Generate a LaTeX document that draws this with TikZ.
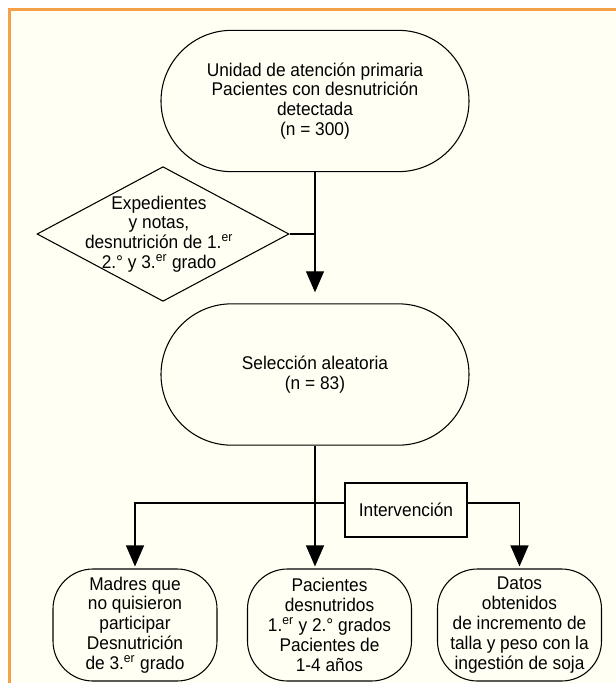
\documentclass[tikz,border=0pt]{standalone}
\usepackage{fontspec}
\setmainfont{Liberation Sans}[FakeStretch=0.94]
\usetikzlibrary{arrows.meta,shapes.geometric}
\definecolor{fondo}{RGB}{255,255,244}
\definecolor{borde}{RGB}{247,160,74}

\begin{document}
\begin{tikzpicture}[x=0.75pt, y=-0.75pt, line width=0.8pt,
    >={Triangle[length=15.75pt,width=13.5pt]},
    every node/.style={font=\fontsize{13.8pt}{14.85pt}\selectfont, align=center, inner sep=0pt},
    etapa/.style={draw, rounded corners=53pt, minimum width=231pt, minimum height=106pt},
    grupo/.style={draw, rounded corners=30pt, minimum width=123pt, minimum height=84pt},
    decision/.style={draw, diamond, minimum width=189pt, minimum height=101pt},
    caja/.style={draw, minimum width=91.5pt, minimum height=40.5pt}]
    % 背景与橙色边框
    \useasboundingbox (0,0) rectangle (616,683);
    \fill[fondo] (10,10) rectangle (616,683);
    \draw[borde, line width=2.25pt] (9,683) -- (9,9) -- (616,9);

    % 上部两个阶段
    \node[etapa] (inicio) at (315,101) {Unidad de atención primaria\\Pacientes con desnutrición\\detectada\\(n = 300)};
    \node[etapa] (sel) at (315,374.5) {Selección aleatoria\\(n = 83)};

    % 判断菱形
    \node[decision] (crit) at (163,234) {};
    \node (critxt) at ([xshift=-3pt]crit.center) {Expedientes\\y notas,\\desnutrición de 1.\textsuperscript{er}\\2.° y 3.\textsuperscript{er} grado};

    % 干预框与下部三组
    \node[caja] (interv) at (406,510) {Intervención};
    \node[grupo] (madres) at (135,625) {Madres que\\no quisieron\\participar\\Desnutrición\\de 3.\textsuperscript{er} grado};
    \node[grupo] (pac) at (329.5,625) {Pacientes\\desnutridos\\1.\textsuperscript{er} y 2.° grados\\Pacientes de\\1-4 años};
    \node[grupo] (datos) at (519.5,625) {Datos\\obtenidos\\de incremento de\\talla y peso con la\\ingestión de soja};

    % 连线
    \draw[->, shorten >=8.25pt] (inicio.south) -- (sel.north);
    \draw (crit.east) -- (crit.east -| inicio.south);
    \draw[->, shorten >=1.5pt] (sel.south) -- (sel.south |- pac.north);
    \draw[->, shorten >=1.5pt] ([yshift=5.25pt]interv.west) -| (madres.north);
    \draw[->, shorten >=1.5pt] ([yshift=5.25pt]interv.east) -| (datos.north);
\end{tikzpicture}
\end{document}
